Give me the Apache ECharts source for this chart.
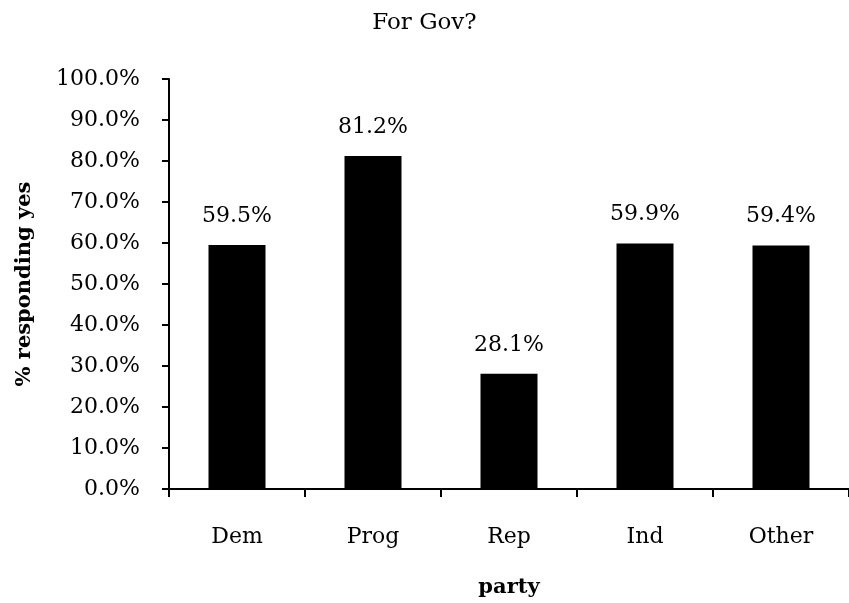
<!DOCTYPE html>
<html><head><meta charset="utf-8">
<script src="https://cdn.jsdelivr.net/npm/echarts@6/dist/echarts.min.js"></script>
<style>html,body{margin:0;padding:0;background:#fff}#c{width:849px;height:603px}</style>
</head><body><div id="c"></div>
<script>
const categories = ['Dem','Prog','Rep','Ind','Other'];
const values = [59.5, 81.2, 28.1, 59.9, 59.4];
const titleText = 'For Gov?';
const yName = '% responding yes';
const xName = 'party';
const F = '"DejaVu Serif", "Liberation Serif", serif';
const chart = echarts.init(document.getElementById('c'));
chart.setOption({
  animation:false,
  title:{text:titleText,left:'center',top:7,textStyle:{fontFamily:F,fontSize:23,fontWeight:'normal',color:'#000'}},
  grid:{left:169,right:-9,top:79,bottom:108},
  xAxis:{type:'category',data:categories,
    name:xName,nameLocation:'middle',nameGap:88,
    nameTextStyle:{fontFamily:F,fontSize:21,fontWeight:'bold',color:'#000'},
    axisLine:{lineStyle:{color:'#000',width:2}},
    axisTick:{show:true,length:8,lineStyle:{color:'#000',width:2},alignWithLabel:false},
    axisLabel:{fontFamily:F,fontSize:22,color:'#000',margin:37}},
  yAxis:{type:'value',min:0,max:100,interval:10,
    name:yName,nameLocation:'middle',nameGap:134,nameRotate:90,
    nameTextStyle:{fontFamily:F,fontSize:21,fontWeight:'bold',color:'#000'},
    axisLine:{show:true,lineStyle:{color:'#000',width:2}},
    axisTick:{show:true,length:7,lineStyle:{color:'#000',width:2}},
    splitLine:{show:false},
    axisLabel:{fontFamily:F,fontSize:22,color:'#000',margin:29,formatter:v=>v.toFixed(1)+'%'}},
  series:[{type:'bar',data:values,barWidth:57,itemStyle:{color:'#000'},
    label:{show:true,position:'top',distance:18,fontFamily:F,fontSize:22,color:'#000',formatter:p=>p.value.toFixed(1)+'%'}}]
});
</script></body></html>
